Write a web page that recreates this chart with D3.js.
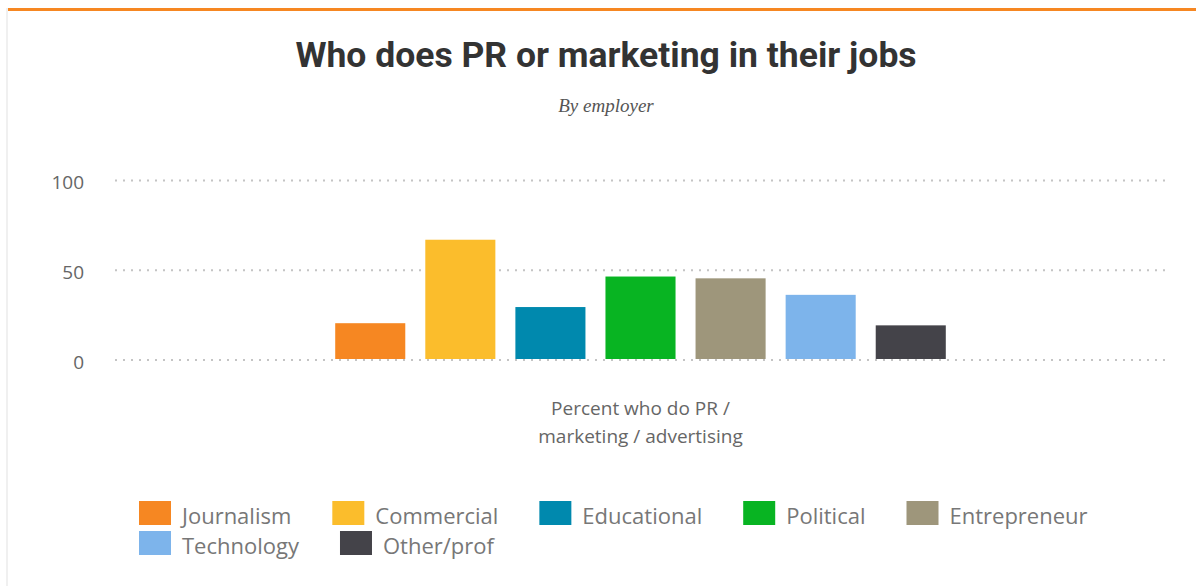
<!DOCTYPE html>
<html>
<head>
<meta charset="utf-8">
<script src="https://cdn.jsdelivr.net/npm/d3@7"></script>
<style>
  html, body { margin: 0; padding: 0; background: #fff; }
  svg { display: block; }
</style>
</head>
<body>
<svg id="chart" width="1196" height="586"></svg>
<script>
// Share of people who do PR / marketing / advertising, by employer type
const groupLabel = "Percent who do PR / marketing / advertising";
const employers = ["Journalism", "Commercial", "Educational", "Political", "Entrepreneur", "Technology", "Other/prof"];
const percents = [20.5, 67, 29.5, 46.5, 45.5, 36.3, 19.3];
const colors = ["#f68722", "#fbbd2c", "#0089ae", "#08b422", "#9e967b", "#7db4eb", "#444349"];
const yTicks = [0, 50, 100];

const svg = d3.select("#chart");
const W = 1196;
const sans = "'Open Sans', Lato, sans-serif";

// frame: light left rule and orange top rule
svg.append("rect").attr("x", 6).attr("y", 8).attr("width", 2).attr("height", 578).attr("fill", "#f0f0f0");
svg.append("rect").attr("x", 8).attr("y", 8).attr("width", W - 8).attr("height", 3).attr("fill", "#f68722");

// title + subtitle
svg.append("text")
  .attr("x", 606).attr("y", 67)
  .attr("text-anchor", "middle")
  .style("font-family", "Roboto, 'Open Sans', sans-serif")
  .style("font-weight", 700)
  .style("font-size", "35.5px")
  .attr("fill", "#333")
  .text("Who does PR or marketing in their jobs");

svg.append("text")
  .attr("x", 606).attr("y", 112)
  .attr("text-anchor", "middle")
  .style("font-family", "'Liberation Serif', 'DejaVu Serif', serif")
  .style("font-style", "italic")
  .style("font-size", "19px")
  .attr("fill", "#555")
  .text("By employer");

// scales
const plotLeft = 115, plotRight = 1166;
const y = d3.scaleLinear().domain([0, 100]).range([360, 180.5]);
const x0 = d3.scaleBand().domain([groupLabel]).range([plotLeft, plotRight]).paddingInner(0.25).paddingOuter(0.25);
const x1 = d3.scaleBand().domain(employers).range([0, x0.bandwidth()]).paddingInner(2 / 9).paddingOuter(1 / 9);
const color = d3.scaleOrdinal().domain(employers).range(colors);

// dotted gridlines
const grid = svg.append("g");
grid.selectAll("line").data(yTicks).join("line")
  .attr("x1", plotLeft).attr("x2", plotRight)
  .attr("y1", d => y(d)).attr("y2", d => y(d))
  .attr("stroke", "#c4c4c4")
  .attr("stroke-width", 2)
  .attr("stroke-dasharray", "2,6");

// y axis labels
const yAxis = svg.append("g").attr("transform", "translate(84,2)")
  .call(d3.axisLeft(y).tickValues(yTicks).tickSize(0).tickPadding(0));
yAxis.select(".domain").remove();
yAxis.selectAll("text")
  .style("font-family", sans)
  .style("font-size", "19px")
  .attr("fill", "#666");

// bars
const data = employers.map((e, i) => ({ employer: e, value: percents[i] }));
svg.append("g")
  .attr("transform", `translate(${x0(groupLabel)},0)`)
  .selectAll("rect").data(data).join("rect")
  .attr("x", d => x1(d.employer))
  .attr("width", x1.bandwidth())
  .attr("y", d => y(d.value))
  .attr("height", d => y(0) - 1 - y(d.value))
  .attr("fill", d => color(d.employer));

// group label under the bars
const cx = x0(groupLabel) + x0.bandwidth() / 2;
const gl = svg.append("text")
  .attr("x", cx)
  .attr("y", 415)
  .attr("text-anchor", "middle")
  .style("font-family", sans)
  .style("font-size", "19px")
  .attr("fill", "#666");
gl.append("tspan").attr("x", cx).text("Percent who do PR /");
gl.append("tspan").attr("x", cx).attr("dy", 28).text("marketing / advertising");

// legend, flowing left to right and wrapping
const legend = svg.append("g");
const legendLeft = 139, legendMax = 1160, rowH = 30, sw = 32, sh = 24, gapText = 11, gapItem = 41;
let lx = legendLeft, ly = 501;
employers.forEach(e => {
  const item = legend.append("g");
  item.append("rect").attr("width", sw).attr("height", sh).attr("fill", color(e));
  const t = item.append("text")
    .attr("x", sw + gapText).attr("y", sh - 1)
    .style("font-family", sans)
    .style("font-size", "22px")
    .attr("fill", "#777")
    .text(e);
  const w = sw + gapText + t.node().getComputedTextLength();
  if (lx + w > legendMax && lx > legendLeft) { lx = legendLeft; ly += rowH; }
  item.attr("transform", `translate(${lx},${ly})`);
  lx += w + gapItem;
});
</script>
</body>
</html>
